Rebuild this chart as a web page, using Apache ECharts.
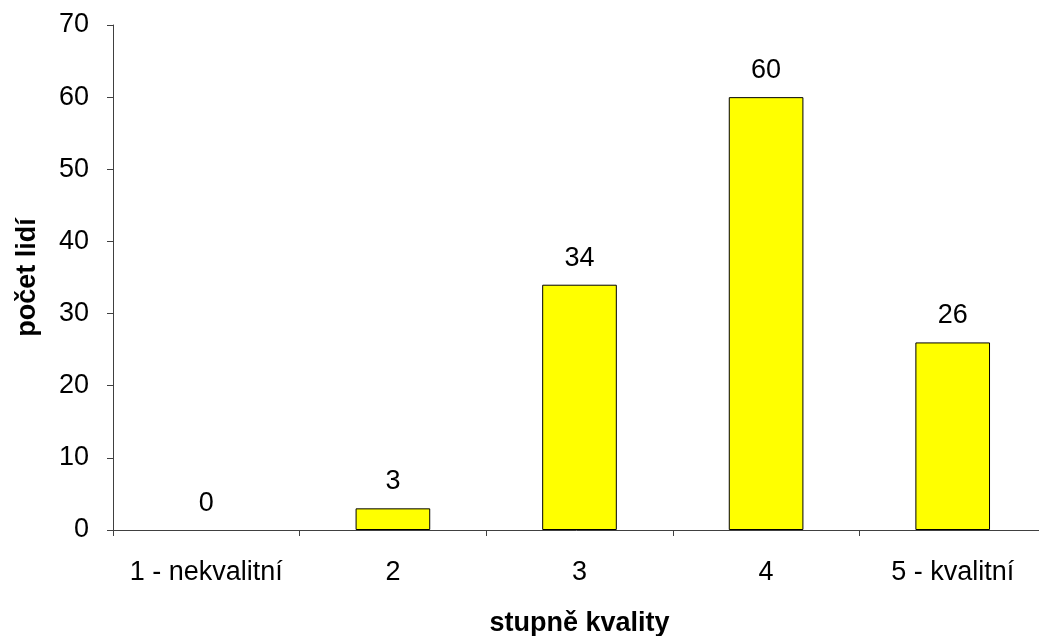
<!DOCTYPE html>
<html>
<head>
	<meta charset="utf-8">
	<script src="https://cdn.jsdelivr.net/npm/echarts@6/dist/echarts.min.js"></script>
	<title>stupně kvality</title>
</head>
<body style="margin:0">
	<div id="main" style="width: 1039px;height:636px;"></div>
	<script type="text/javascript">
	    var categories = ['1 - nekvalitní', '2', '3', '4', '5 - kvalitní'];
	    var counts = [0, 3, 34, 60, 26];

	    var myChart = echarts.init(document.getElementById('main'));
	    var axisColor = '#404040';
	    // zero bars have no visible outline in the original
	    var barData = counts.map(function (v) {
	        return v === 0 ? { value: v, itemStyle: { borderWidth: 0 } } : v;
	    });
	    var option = {
	        animation: false,
	        textStyle: { fontFamily: 'Liberation Sans, Arial, sans-serif' },
	        grid: { left: 113, right: -7, top: 25, bottom: 106, containLabel: false, outerBoundsMode: 'none' },
	        xAxis: {
	            type: 'category',
	            data: categories,
	            name: 'stupně kvality',
	            nameLocation: 'middle',
	            nameGap: 80,
	            nameTextStyle: { color: '#000', fontSize: 27, fontWeight: 'bold' },
	            axisLine: { lineStyle: { color: axisColor, width: 1 } },
	            axisTick: { show: true, alignWithLabel: false, interval: 0, length: 6, lineStyle: { color: axisColor } },
	            axisLabel: { color: '#000', fontSize: 27, margin: 29, interval: 0 }
	        },
	        yAxis: {
	            type: 'value',
	            min: 0,
	            max: 70,
	            interval: 10,
	            name: 'počet lidí',
	            nameLocation: 'middle',
	            nameGap: 72,
	            nameTextStyle: { color: '#000', fontSize: 27, fontWeight: 'bold' },
	            axisLine: { show: true, lineStyle: { color: axisColor, width: 1 } },
	            axisTick: { show: true, length: 6, lineStyle: { color: axisColor } },
	            axisLabel: { color: '#000', fontSize: 27, margin: 24 },
	            splitLine: { show: false }
	        },
	        series: [{
	            type: 'bar',
	            data: barData,
	            barWidth: '40%',
	            itemStyle: { color: '#FFFF00', borderColor: '#000', borderWidth: 1 },
	            label: { show: true, position: 'top', distance: 13, color: '#000', fontSize: 27 }
	        }]
	    };
	    myChart.setOption(option);
    </script>
</body>
</html>
